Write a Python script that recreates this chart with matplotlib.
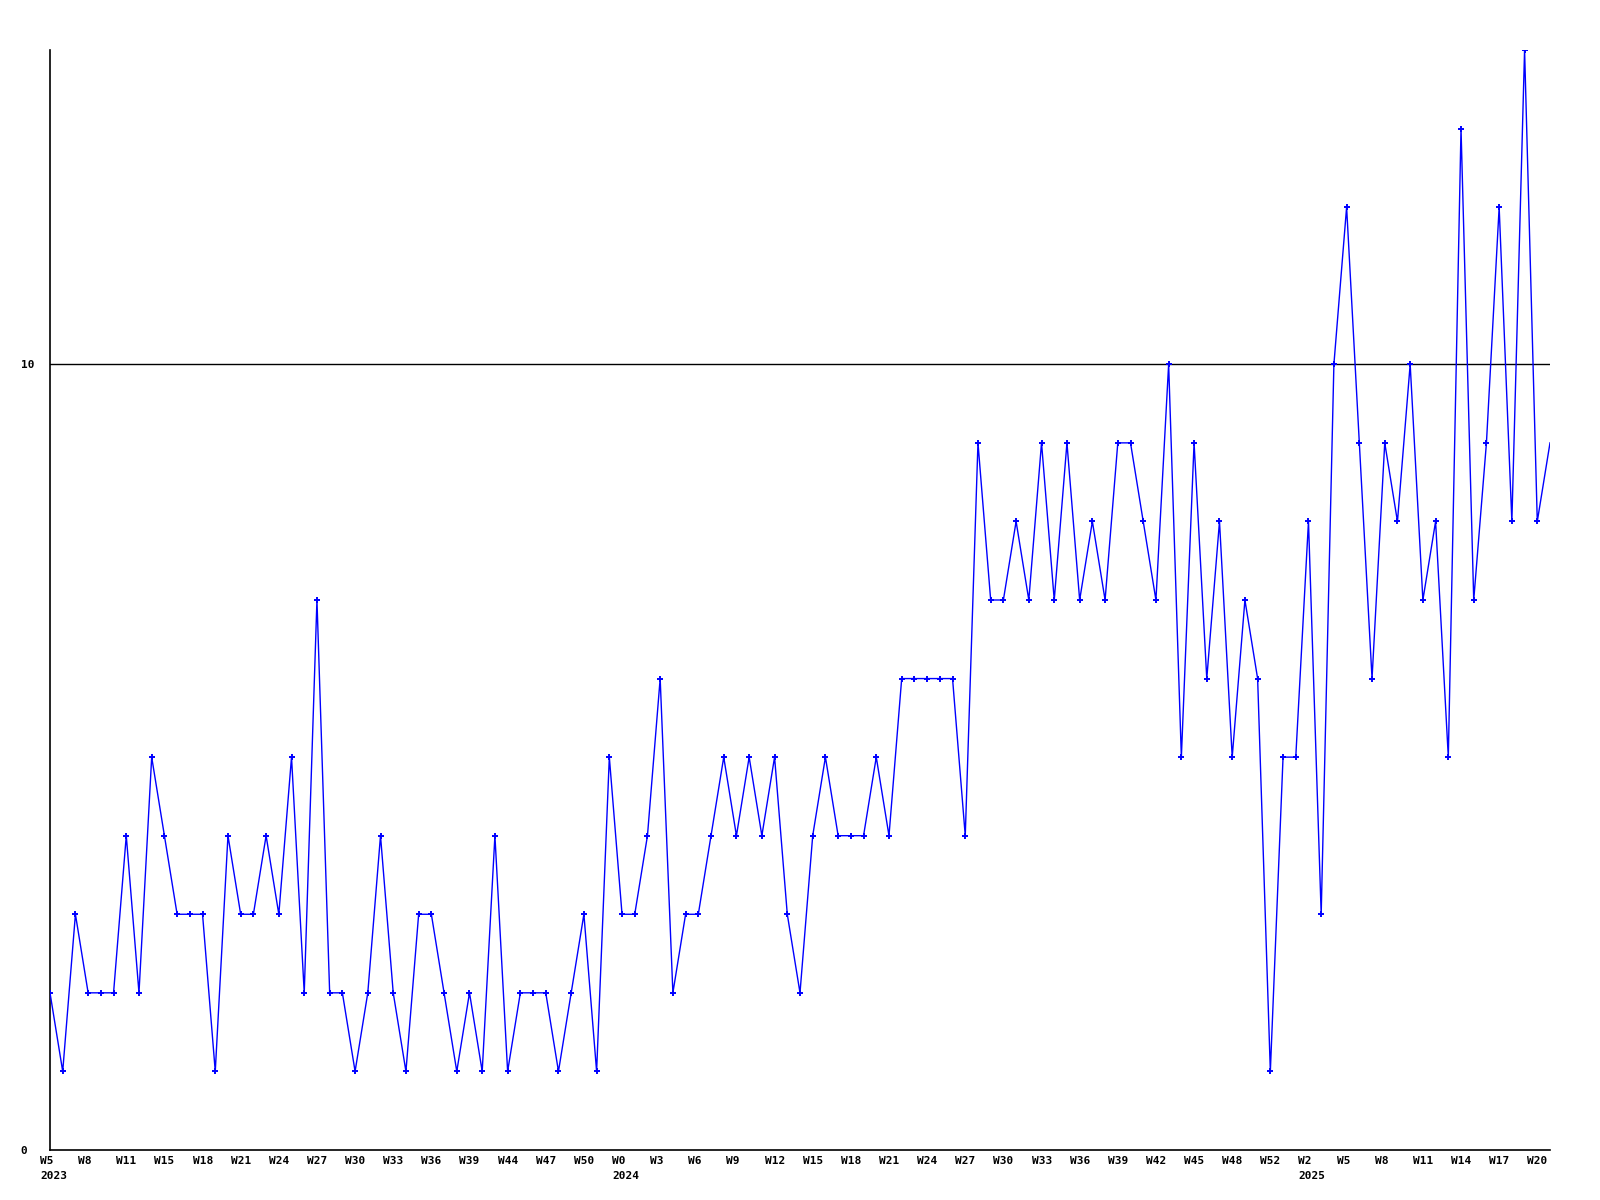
import matplotlib
matplotlib.use('Agg')
import matplotlib.pyplot as plt
import matplotlib.transforms as mtransforms

# weekly counts, one per week from 2023 W5 on
values = [2, 1, 3, 2, 2, 2, 4, 2, 5, 4, 3, 3, 3, 1, 4, 3, 3, 4, 3, 5,
          2, 7, 2, 2, 1, 2, 4, 2, 1, 3, 3, 2, 1, 2, 1, 4, 1, 2, 2, 2,
          1, 2, 3, 1, 5, 3, 3, 4, 6, 2, 3, 3, 4, 5, 4, 5, 4, 5, 3, 2,
          4, 5, 4, 4, 4, 5, 4, 6, 6, 6, 6, 6, 4, 9, 7, 7, 8, 7, 9, 7,
          9, 7, 8, 7, 9, 9, 8, 7, 10, 5, 9, 6, 8, 5, 7, 6, 1, 5, 5, 8,
          3, 10, 12, 9, 6, 9, 8, 10, 7, 8, 5, 13, 7, 9, 12, 8, 14, 8, 9]

# x labels, every third week
week_labels = ['W5', 'W8', 'W11', 'W15', 'W18', 'W21', 'W24', 'W27', 'W30', 'W33',
               'W36', 'W39', 'W44', 'W47', 'W50',
               'W0', 'W3', 'W6', 'W9', 'W12', 'W15', 'W18', 'W21', 'W24', 'W27',
               'W30', 'W33', 'W36', 'W39', 'W42', 'W45', 'W48', 'W52',
               'W2', 'W5', 'W8', 'W11', 'W14', 'W17', 'W20']
year_marks = {'2023': 0, '2024': 15, '2025': 33}
label_step = 3

yticks = [0, 10]
ref_level = 10

x = list(range(len(values)))

fig = plt.figure(figsize=(16, 12), dpi=100)
ax = fig.add_axes([0.03125, 0.0417, 0.9375, 0.9166])

ax.plot(x, values, color='#0000ff', lw=1.0, zorder=3)
ax.plot(x[:-1], values[:-1], ls='none', marker='+', ms=4, mew=1.4,
        color='#0000ff', zorder=4)
ax.axhline(ref_level, color='black', lw=1, zorder=2)

ax.set_xlim(0, len(values) - 1)
ax.set_ylim(0, 14)

for s in ['top', 'right']:
    ax.spines[s].set_visible(False)
for s in ['left', 'bottom']:
    ax.spines[s].set_color('black')
    ax.spines[s].set_linewidth(1.2)

labels = list(week_labels)
for yr, i in year_marks.items():
    labels[i] = labels[i] + '\n' + yr
ax.set_xticks([i * label_step for i in range(len(week_labels))])
ax.set_xticklabels(labels, fontfamily='DejaVu Sans Mono', fontweight='bold',
                   fontsize=8, linespacing=1.65)
ax.tick_params(axis='x', length=0, pad=4)
offset = mtransforms.ScaledTranslation(-10 / 100, 0, fig.dpi_scale_trans)
for lab in ax.get_xticklabels():
    lab.set_horizontalalignment('left')
    lab.set_multialignment('left')
    lab.set_transform(lab.get_transform() + offset)

ax.set_yticks(yticks)
ax.set_yticklabels([str(v) for v in yticks], fontfamily='DejaVu Sans Mono',
                   fontweight='bold', fontsize=8)
ax.tick_params(axis='y', length=0, pad=21)
for lab in ax.get_yticklabels():
    lab.set_horizontalalignment('left')

fig.savefig('out.png', dpi=100, facecolor='white')
